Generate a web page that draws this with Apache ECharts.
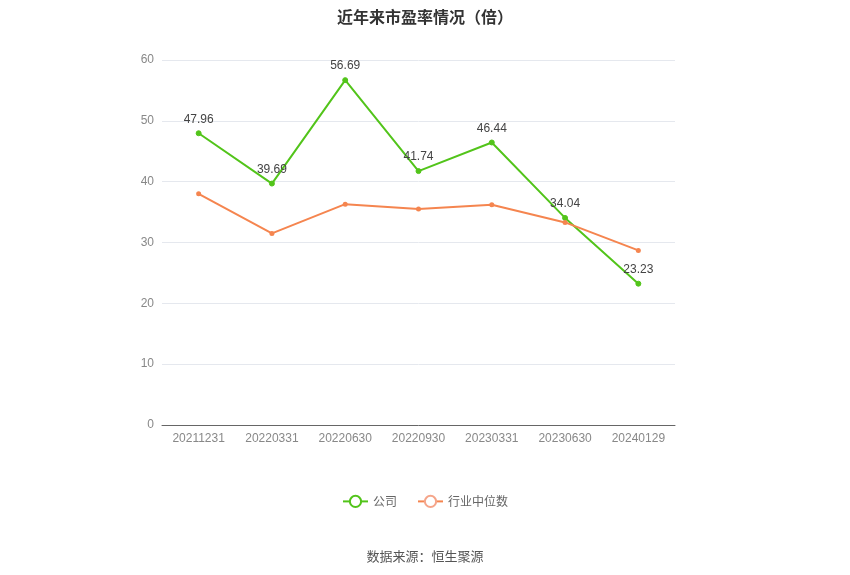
<!DOCTYPE html>
<html><head><meta charset="utf-8">
<script src="https://cdn.jsdelivr.net/npm/echarts@6/dist/echarts.min.js"></script>
<style>html,body{margin:0;padding:0;background:#fff}#c{width:850px;height:575px}</style>
</head><body><div id="c"></div>
<script>
const categories = ['20211231','20220331','20220630','20220930','20230331','20230630','20240129'];
const companyPE = [47.96, 39.69, 56.69, 41.74, 46.44, 34.04, 23.23];
const industryPE = [38.0, 31.5, 36.3, 35.5, 36.2, 33.3, 28.7];
const chart = echarts.init(document.getElementById('c'));
chart.setOption({
  animation: false,
  title: { text: '近年来市盈率情况（倍）', left: 'center', top: 4,
    textStyle: { fontSize: 16, fontWeight: 'bold', color: '#333', fontFamily: 'Noto Sans CJK SC' } },
  grid: { left: 162, right: 175, top: 60, bottom: 150 },
  legend: { bottom: 62, itemGap: 20, textStyle: { color: '#666', fontSize: 12, fontFamily: 'Noto Sans CJK SC' },
    data: [{ name: '公司', itemStyle: { color: '#fff', borderColor: '#52c41a', borderWidth: 2 } },
           { name: '行业中位数', itemStyle: { color: '#fff', borderColor: '#f5a58a', borderWidth: 2 } }] },
  graphic: [{ type: 'text', left: 'center', bottom: 12,
    style: { text: '数据来源：恒生聚源', fill: '#555', fontSize: 13, fontFamily: 'Noto Sans CJK SC' } }],
  xAxis: { type: 'category', data: categories, boundaryGap: true,
    axisLine: { lineStyle: { color: '#666' } }, axisTick: { show: false },
    axisLabel: { color: '#888', fontSize: 12, margin: 8 } },
  yAxis: { type: 'value', min: 0, max: 60, interval: 10,
    axisLine: { show: false }, axisTick: { show: false },
    axisLabel: { color: '#888', fontSize: 12 },
    splitLine: { lineStyle: { color: '#e5e8ee' } } },
  series: [
    { name: '公司', type: 'line', data: companyPE, symbol: 'circle', symbolSize: 5,
      itemStyle: { color: '#52c41a', borderColor: '#52c41a' }, lineStyle: { width: 2, color: '#52c41a' },
      label: { show: true, position: 'top', color: '#444', fontSize: 12 } },
    { name: '行业中位数', type: 'line', data: industryPE, symbol: 'circle', symbolSize: 5,
      itemStyle: { color: '#f5854f' }, lineStyle: { width: 2, color: '#f5854f' } }
  ]
});
</script></body></html>
